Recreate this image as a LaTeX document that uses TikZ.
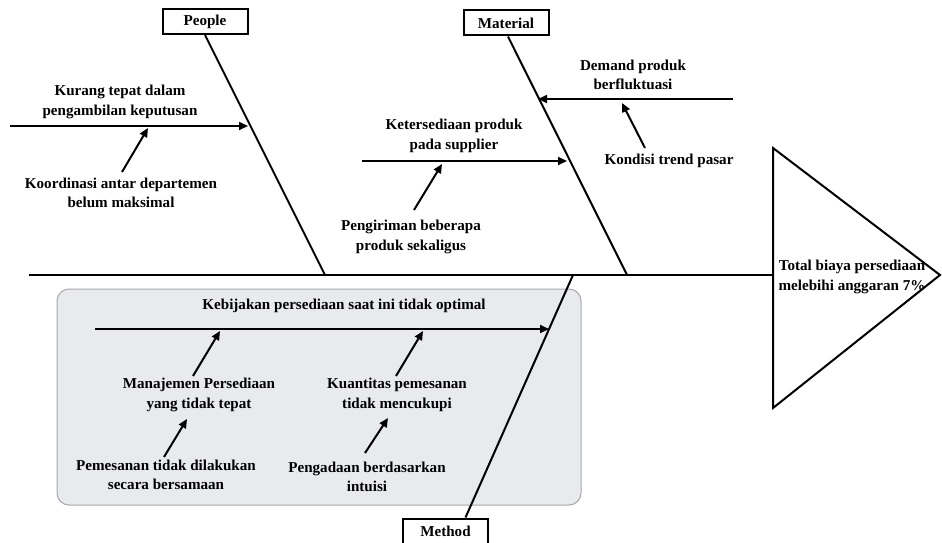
\documentclass[tikz,border=0pt]{standalone}
\usepackage{fontspec}
\setmainfont{Liberation Serif}
\usetikzlibrary{arrows.meta}
\definecolor{panelfill}{HTML}{E8EAEE}
\definecolor{panelline}{HTML}{A8A8A8}
\begin{document}
\begin{tikzpicture}[x=1pt,y=-1pt,
  lbl/.style={font=\bfseries\fontsize{15.1}{19.5}\selectfont, align=center, inner sep=0pt},
  catbox/.style={draw, line width=2pt, minimum width=85pt, minimum height=25pt, inner sep=0pt,
                 font=\bfseries\fontsize{15.1}{19.5}\selectfont},
  bone/.style={line width=2pt},
  sub/.style={line width=2pt, -{Triangle[length=9pt,width=8pt]}}]
\useasboundingbox (0,0) rectangle (942,543);
% grey panel
\draw[rounded corners=12pt, fill=panelfill, draw=panelline, line width=1pt] (57,289) rectangle (581,505);

% head
\coordinate (hTop) at (773,148);
\coordinate (hApex) at (940,275);
\coordinate (hBot) at (773,408);
\coordinate (hMid) at (773,275);
\draw[bone, line join=miter] (hTop) -- (hApex) -- (hBot) -- cycle;
\node[lbl] (effect) at (852,277) {Total biaya persediaan\\melebihi anggaran 7\%};

% spine
\coordinate (tail) at (29,275);
\draw[bone] (tail) -- (hMid);

% category boxes
\node[catbox] (people) at (205,21.5) {People};
\node[catbox] (material) at (506,23) {Material};
\node[catbox, minimum height=28pt] (method) at (445.5,532.5) {\raisebox{2pt}{Method}};

% bones
\coordinate (pEnd) at (325,275);
\coordinate (mEnd) at (627,275);
\coordinate (meEnd) at (573,275);
\draw[bone] (people.south) -- (pEnd);
\draw[bone] ([xshift=2pt]material.south) -- (mEnd);
\draw[bone] (meEnd) -- ([xshift=20pt]method.north);

% People causes
\coordinate (kurS) at (10,126);
\coordinate (kurT) at (248,126);
\draw[sub] (kurS) -- (kurT);
\node[lbl] (kurang) at (120,102) {Kurang tepat dalam\\pengambilan keputusan};
\node[lbl] (koord) at (121,193) {Koordinasi antar departemen\\belum maksimal};
\coordinate (koB) at (122,172);
\coordinate (koT) at (148,128);
\draw[sub] (koB) -- (koT);

% Material causes
\coordinate (ketS) at (362,161);
\coordinate (ketT) at (567,161);
\draw[sub] (ketS) -- (ketT);
\node[lbl] (keter) at (454,136) {Ketersediaan produk\\pada supplier};
\node[lbl] (pengir) at (411,237) {Pengiriman beberapa\\produk sekaligus};
\coordinate (peB) at (414,210);
\coordinate (peT) at (442,164);
\draw[sub] (peB) -- (peT);

\coordinate (demS) at (733,99);
\coordinate (demT) at (538,99);
\draw[sub] (demS) -- (demT);
\node[lbl] (demand) at (633,75) {Demand produk\\berfluktuasi};
\node[lbl] (kondisi) at (669,161) {Kondisi trend pasar};
\coordinate (kdB) at (645,148);
\coordinate (kdT) at (622,103);
\draw[sub] (kdB) -- (kdT);

% Method causes
\coordinate (kebS) at (95,329);
\coordinate (kebT) at (549,329);
\draw[sub] (kebS) -- (kebT);
\node[lbl] (kebij) at (344,306) {Kebijakan persediaan saat ini tidak optimal};

\node[lbl] (manaj) at (199,395) {Manajemen Persediaan\\yang tidak tepat};
\coordinate (maB) at (193,376);
\coordinate (maT) at (220,331);
\draw[sub] (maB) -- (maT);

\node[lbl] (kuant) at (397,395) {Kuantitas pemesanan\\tidak mencukupi};
\coordinate (kuB) at (396,376);
\coordinate (kuT) at (423,331);
\draw[sub] (kuB) -- (kuT);

\node[lbl] (pemes) at (166,475) {Pemesanan tidak dilakukan\\secara bersamaan};
\coordinate (pmB) at (164,457);
\coordinate (pmT) at (187,419);
\draw[sub] (pmB) -- (pmT);

\node[lbl] (pengad) at (367,477) {Pengadaan berdasarkan\\intuisi};
\coordinate (pgB) at (365,453);
\coordinate (pgT) at (388,418);
\draw[sub] (pgB) -- (pgT);
\end{tikzpicture}
\end{document}
